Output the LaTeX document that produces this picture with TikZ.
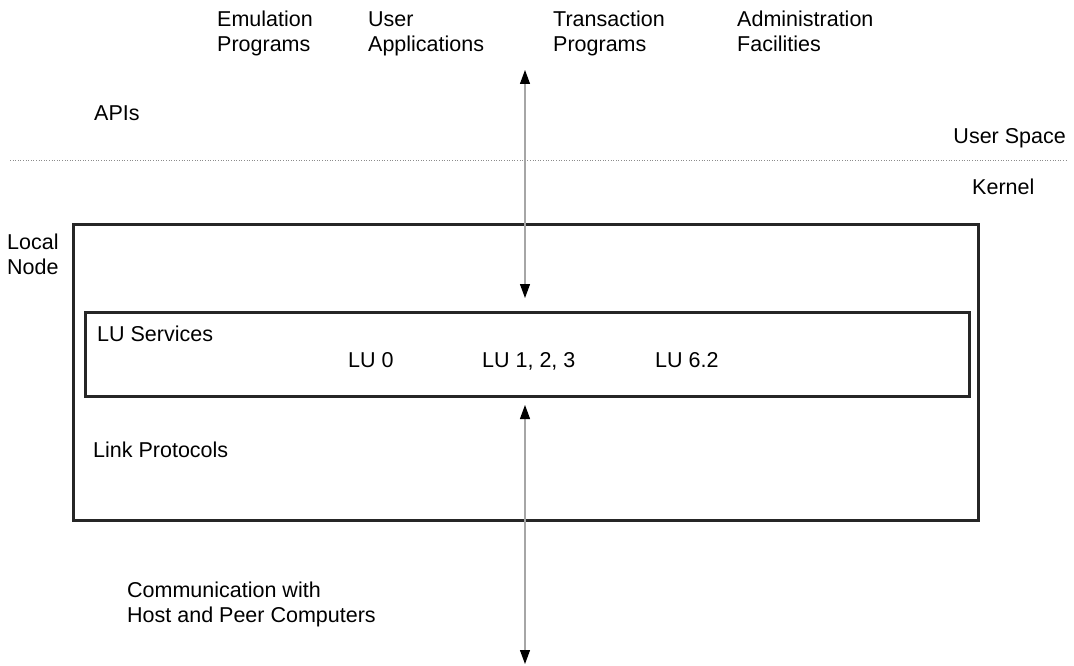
\documentclass[tikz,border=0pt]{standalone}
\usepackage{fontspec}
\setmainfont{Liberation Sans}
\usetikzlibrary{arrows.meta}
\begin{document}
\begin{tikzpicture}[x=1pt,y=-1pt,
  % base anchors of multi-line labels sit on their last line
  lbl/.style={anchor=base west,inner sep=0pt,align=left,
    font=\fontsize{21.5}{25}\selectfont},
  frame/.style={draw=black!85,line width=2.6pt,inner sep=0pt},
  link/.style={draw=black!35,line width=1.1pt,
    {Triangle[width=10pt,length=14pt,color=black]}-{Triangle[width=10pt,length=14pt,color=black]}},
  divider/.style={draw=black!45,line width=0.8pt,dash pattern=on 1pt off 1.6pt}]
\useasboundingbox (0,0) rectangle (1074,666);

% application programs on top
\node[lbl] (emu) at (217,52) {Emulation\\Programs};
\node[lbl] (usr) at (368,52) {User\\Applications};
\node[lbl] (trn) at (553,52) {Transaction\\Programs};
\node[lbl] (adm) at (737,52) {Administration\\Facilities};
\node[lbl] (api) at (94,121) {APIs};

% user space / kernel boundary
\coordinate (dl) at (10,160);
\coordinate (dr) at (1066,160);
\draw[divider] (dl) -- (dr);
\node[lbl,anchor=base east] (us) at (1066,144) {User Space};
\node[lbl] (krn) at (972,194) {Kernel};

% local node with its layers
\node[frame,minimum width=905pt,minimum height=296pt,anchor=north west] (local) at (72,223) {};
\node[lbl] (ln) at (7,274) {Local\\Node};
\node[frame,minimum width=884pt,minimum height=84pt,anchor=north west] (lus) at (84,311) {};
\node[lbl] (lut) at (97,341) {LU Services};
\node[lbl] (lu0) at (348,367) {LU 0};
\node[lbl] (lu1) at (482,367) {LU 1, 2, 3};
\node[lbl] (lu6) at (655,367) {LU 6.2};
\node[lbl] (lnk) at (93,457) {Link Protocols};

\node[lbl] (com) at (127,622) {Communication with\\Host and Peer Computers};

% data flow across the layers
\coordinate (a1) at (525,70);
\coordinate (a2) at (525,298);
\coordinate (b1) at (525,405);
\coordinate (b2) at (525,664);
\draw[link] (a1) -- (a2);
\draw[link] (b1) -- (b2);
\end{tikzpicture}
\end{document}
